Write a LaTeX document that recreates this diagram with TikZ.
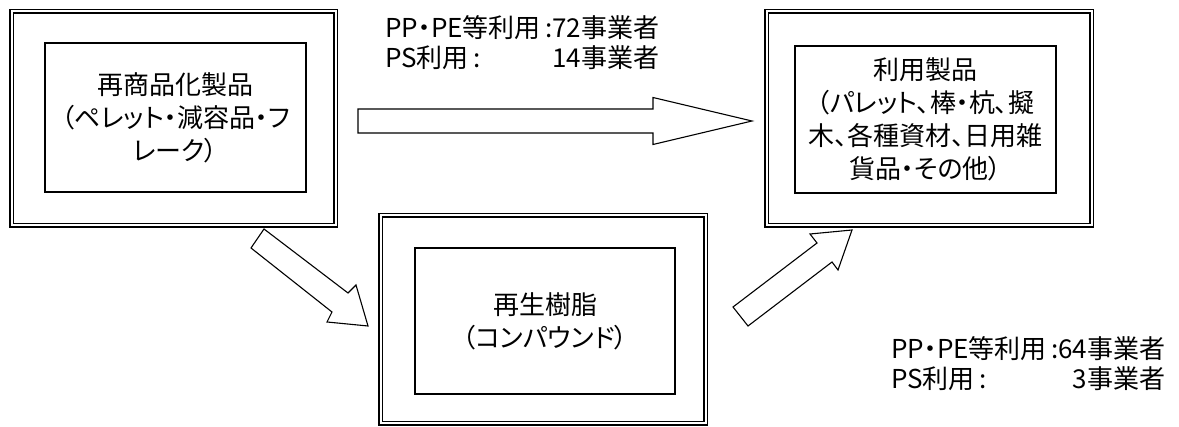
\documentclass[tikz,border=0pt]{standalone}
\usepackage{fontspec}
\setmainfont{Noto Sans CJK JP}[RawFeature=+palt]
\usepackage{tikz}

\tikzset{
  outerframe/.style={draw, line width=1.4pt, double=white, double distance=2pt, inner sep=0pt},
  innerframe/.style={draw, line width=1.1pt, inner sep=0pt, align=center,
                     font=\fontsize{26}{33}\selectfont},
  countlabel/.style={inner sep=0pt, anchor=west, font=\fontsize{26}{28}\selectfont},
  blockarrow/.style={draw, line width=1.1pt, line join=miter, fill=white}
}

\begin{document}
\begin{tikzpicture}[x=1pt,y=-1pt]
\useasboundingbox (0,0) rectangle (1179,427);

\node[outerframe, minimum width=324pt, minimum height=214pt] (recyclebox) at (173.5,118.5) {};
\node[outerframe, minimum width=325pt, minimum height=214pt] (productbox) at (929,118.5) {};
\node[outerframe, minimum width=325pt, minimum height=208pt] (resinbox) at (543,319.5) {};

\node[innerframe, minimum width=261pt, minimum height=149pt] (recycle) at (175.5,117.5)
  {再商品化製品\\（ペレット・減容品・フ\\レーク）};
\node[innerframe, minimum width=261pt, minimum height=147pt] (product) at (925.5,119.5)
  {利用製品\\（パレット、棒・杭、擬\\木、各種資材、日用雑\\貨品・その他）};
\node[innerframe, minimum width=260pt, minimum height=146pt] (resin) at (545,321)
  {再生樹脂\\（コンパウンド）};

\node[countlabel] (topcount) at (385,46)
  {\begin{tabular}{@{}l@{}r@{}}PP・PE等利用\,:&72事業者\\PS利用\,:&14事業者\end{tabular}};
\node[countlabel] (bottomcount) at (891,367)
  {\begin{tabular}{@{}l@{}r@{}}PP・PE等利用\,:&64事業者\\PS利用\,:&3事業者\end{tabular}};

\coordinate (H1) at (358,109);
\coordinate (H2) at (653,109);
\coordinate (H3) at (653,97.5);
\coordinate (H4) at (752,121);
\coordinate (H5) at (653,144.5);
\coordinate (H6) at (653,133);
\coordinate (H7) at (358,133);
\draw[blockarrow] (H1) -- (H2) -- (H3) -- (H4) -- (H5) -- (H6) -- (H7) -- cycle;

\coordinate (D1) at (264,229);
\coordinate (D2) at (348,293);
\coordinate (D3) at (356,285);
\coordinate (D4) at (368,326);
\coordinate (D5) at (327,322);
\coordinate (D6) at (332,312);
\coordinate (D7) at (251,248);
\draw[blockarrow] (D1) -- (D2) -- (D3) -- (D4) -- (D5) -- (D6) -- (D7) -- cycle;

\coordinate (U1) at (733,307);
\coordinate (U2) at (817,243);
\coordinate (U3) at (810,234);
\coordinate (U4) at (852,230);
\coordinate (U5) at (838,270);
\coordinate (U6) at (832,262);
\coordinate (U7) at (748,326);
\draw[blockarrow] (U1) -- (U2) -- (U3) -- (U4) -- (U5) -- (U6) -- (U7) -- cycle;
\end{tikzpicture}
\end{document}
